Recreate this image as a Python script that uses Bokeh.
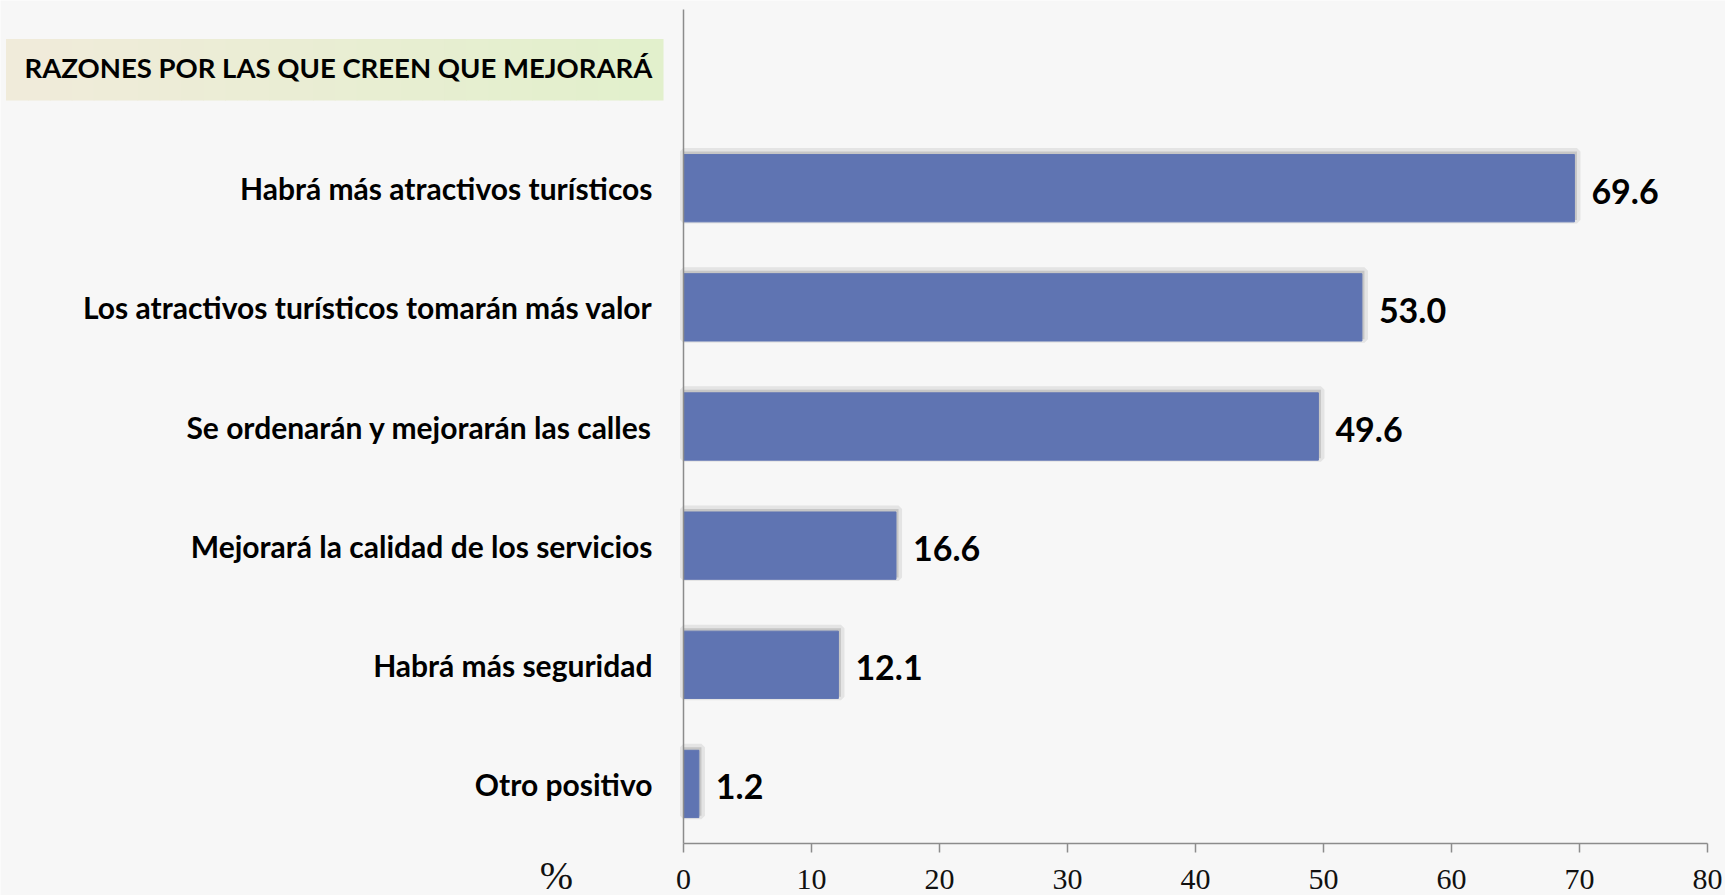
from bokeh.plotting import figure
from bokeh.models import Range1d, FixedTicker, BoxAnnotation, Label, ColumnDataSource
from bokeh.core.properties import value
from bokeh.embed import file_html
from bokeh.resources import INLINE

# ---- data ----
categories = [
    "Habrá más atractivos turísticos",
    "Los atractivos turísticos tomarán más valor",
    "Se ordenarán y mejorarán las calles",
    "Mejorará la calidad de los servicios",
    "Habrá más seguridad",
    "Otro positivo",
]
values = [69.6, 53.0, 49.6, 16.6, 12.1, 1.2]
x_ticks = [0, 10, 20, 30, 40, 50, 60, 70, 80]
title_text = "RAZONES POR LAS QUE CREEN QUE MEJORARÁ"
unit_text = "%"

# ---- layout (page pixels) ----
W, H = 1725, 895
AX_X0, AX_X1 = 683, 1707      # page px of x=0 and x=80
AX_YB, AX_YT = 843, 9         # page px of y=0.5 and y=7.5
XMIN, XMAX = 0, 80
YMIN, YMAX = 0.5, 7.5
ppx = (AX_X1 - AX_X0) / (XMAX - XMIN)
ppy = (AX_YB - AX_YT) / (YMAX - YMIN)

def dx(px):
    return XMIN + (px - AX_X0) / ppx

def dy(py):
    return YMIN + (AX_YB - py) / ppy

n = len(categories)
ypos = [n - i for i in range(n)]
src = ColumnDataSource(dict(y=ypos, v=values, lab=[f"{v:.1f}" for v in values],
                            ys=[y + 0.02 for y in ypos], vs=[v + 0.2 for v in values]))

p = figure(width=W, height=H, output_backend="svg", toolbar_location=None,
           x_range=Range1d(dx(0), dx(W)), y_range=Range1d(dy(H), dy(0)),
           min_border=0, min_border_left=0, min_border_right=0,
           min_border_top=0, min_border_bottom=0)
p.background_fill_color = "#f7f7f7"
p.border_fill_color = "#f7f7f7"
p.outline_line_color = None
p.grid.visible = False

# title box with horizontal gradient (strips)
bx0, bx1, by0, by1 = 5.5, 663, 38.5, 100
c0 = (0xf0, 0xeb, 0xda)
c1 = (0xe2, 0xf0, 0xcc)
strips = 30
for i in range(strips):
    t = i / (strips - 1)
    col = "#%02x%02x%02x" % tuple(int(round(a + (b - a) * t)) for a, b in zip(c0, c1))
    l = bx0 + (bx1 - bx0) * i / strips
    r = min(bx0 + (bx1 - bx0) * (i + 1) / strips + 0.8, bx1)
    p.add_layout(BoxAnnotation(left=dx(l), right=dx(r), top=dy(by0), bottom=dy(by1),
                               fill_color=col, fill_alpha=1.0, line_color=None, level="underlay"))

# shadow + bars
p.hbar(y="ys", right="vs", left=0, height=0.575, source=src,
       fill_color="#6a6a6a", fill_alpha=0.25, line_color="#7a7a7a", line_alpha=0.15, line_width=7)
p.hbar(y="y", right="v", left=0, height=0.565, source=src,
       fill_color="#5f74b2", line_color="#5f74b2")

p.text(x="v", y="y", text="lab", source=src, x_offset=17, y_offset=3,
       text_font=value("Lato"), text_font_style="bold", text_font_size="34px",
       text_color="#000000", text_baseline="middle", text_align="left")

# axes placed at data locations inside the full-size frame
p.xaxis.fixed_location = YMIN
p.xaxis.bounds = (XMIN, XMAX)
p.xaxis.ticker = FixedTicker(ticks=x_ticks)
p.xaxis.axis_line_color = "#8c8c8c"
p.xaxis.axis_line_width = 1.5
p.xaxis.major_tick_line_color = "#8c8c8c"
p.xaxis.major_tick_line_width = 1.5
p.xaxis.major_tick_out = 9
p.xaxis.major_tick_in = 0
p.xaxis.minor_tick_line_color = None
p.xaxis.major_label_standoff = 17
p.xaxis.major_label_text_font = "Liberation Serif"
p.xaxis.major_label_text_font_size = "30px"
p.xaxis.major_label_text_color = "#111111"

p.yaxis.fixed_location = XMIN
p.yaxis.bounds = (YMIN, YMAX)
p.yaxis.ticker = FixedTicker(ticks=ypos)
p.yaxis.major_label_overrides = {y: c for y, c in zip(ypos, categories)}
p.yaxis.axis_line_color = "#8c8c8c"
p.yaxis.axis_line_width = 1.5
p.yaxis.major_tick_line_color = None
p.yaxis.minor_tick_line_color = None
p.yaxis.major_label_standoff = 25
p.yaxis.major_label_text_font = "Lato"
p.yaxis.major_label_text_font_style = "bold"
p.yaxis.major_label_text_font_size = "30px"
p.yaxis.major_label_text_color = "#000000"

p.add_layout(Label(x=dx(24), y=dy(67), text=title_text, text_font="Lato",
                   text_font_style="bold", text_font_size="27.5px", text_color="#000000",
                   text_baseline="middle", text_align="left"))

p.add_layout(Label(x=dx(556), y=dy(852), text=unit_text, text_font="Liberation Serif",
                   text_font_size="40px", text_color="#111111",
                   text_baseline="top", text_align="center"))

open("out.html", "w").write(file_html(p, INLINE))
